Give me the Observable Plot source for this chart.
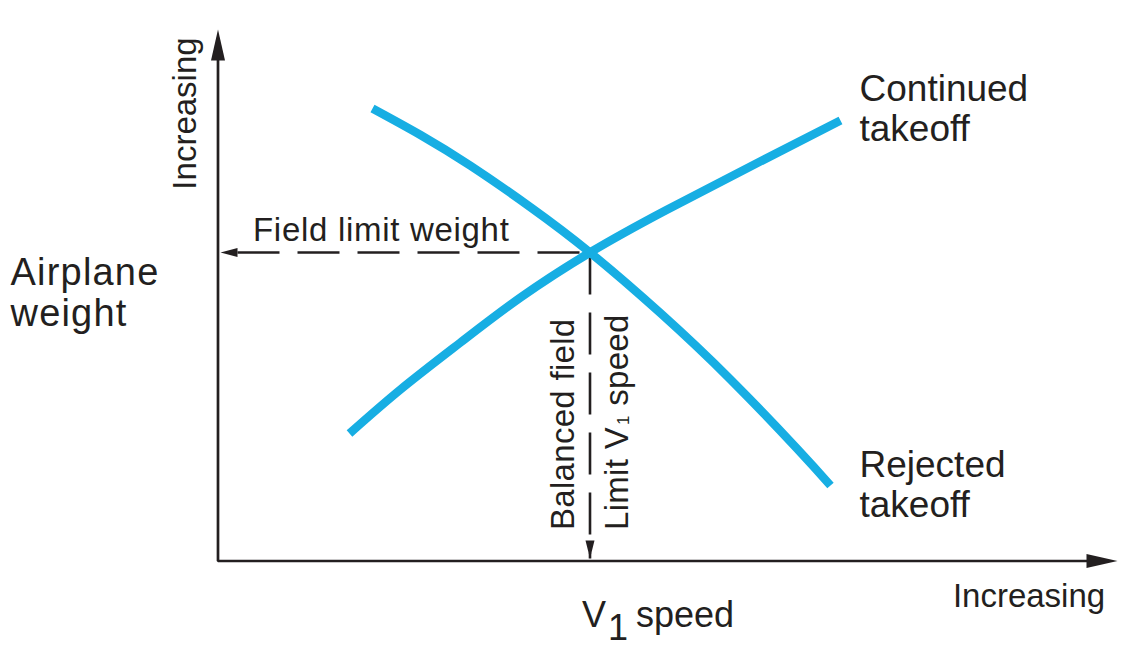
<!DOCTYPE html>
<html>
<head>
<meta charset="utf-8">
<script src="https://cdn.jsdelivr.net/npm/d3@7"></script>
<script src="https://cdn.jsdelivr.net/npm/@observablehq/plot@0.6"></script>
<style>
  html, body { margin: 0; padding: 0; background: #ffffff; }
  #chart svg { display: block; }
</style>
</head>
<body>
<div id="chart"></div>
<script>
// ---------- Data (speed / weight in arbitrary chart units, origin at the axes corner) ----------
const continuedSpeed  = [131.5, 182.5, 242.5, 302.5, 372, 447.5, 532.5, 622.5];
const continuedWeight = [127.5, 171.5, 218.5, 263.5, 308.5, 350.5, 394.5, 440.5];

const rejectedSpeed  = [154.5, 202.5, 252.5, 312.5, 372, 442.5, 512.5, 579.5, 612.5];
const rejectedWeight = [452.5, 426.0, 395.2, 353.8, 308.5, 247.8, 181.5, 111.9, 75.5];

const balancedV1 = 372;            // balanced field limit V1 speed
const fieldLimitWeight = 308.5;    // field limit weight
const speedAxisMax = 899.5;        // end of the speed axis (arrow tip)
const weightAxisMax = 531.5;       // end of the weight axis (arrow tip)
const leaderTipSpeed = 2.5;        // arrow tip of the field-limit-weight leader
const leaderTipWeight = 2.5;       // arrow tip of the V1 leader

// Text annotations
const curveLabels = ["Continued\ntakeoff", "Rejected\ntakeoff"];
const curveLabelSpeed = [641.5, 641.5];
const curveLabelWeight = [420.5, 44.5];

const axisTitleY = "Airplane\nweight";
const axisTitleYSpeed = -207.5, axisTitleYWeight = 235;
const axisTitleX = "V1 speed";
const axisTitleXSpeed = 364, axisTitleXWeight = -66;

const increasingLabel = "Increasing";
const incXSpeed = 811, incXWeight = -45.5;     // along x axis
const incYSpeed = -22, incYWeight = 447.5;     // along y axis

const fieldLabel = "Field limit weight";
const fieldLabelSpeed = 35, fieldLabelWeight = 319.8;

const verticalLabels = ["Balanced field", "Limit V1 speed"];
const verticalLabelSpeed = [355.8, 409.5];
const verticalLabelWeight = [31, 31];

// ---------- Build tables ----------
const continued = continuedSpeed.map((s, i) => ({speed: s, weight: continuedWeight[i]}));
const rejected = rejectedSpeed.map((s, i) => ({speed: s, weight: rejectedWeight[i]}));
const curveLabelData = curveLabels.map((t, i) => ({t, speed: curveLabelSpeed[i], weight: curveLabelWeight[i]}));
const verticalLabelData = verticalLabels.map((t, i) => ({t, speed: verticalLabelSpeed[i], weight: verticalLabelWeight[i]}));

// ---------- Styles ----------
const ink = "#231f20";
const blue = "#17aee3";

// arrowhead symbols (tip at origin)
function head(dir, len, hw) {
  return {
    draw(ctx) {
      const pts = {
        up:    [[0, 0], [-hw, len], [hw, len]],
        down:  [[0, 0], [-hw, -len], [hw, -len]],
        left:  [[0, 0], [len, -hw], [len, hw]],
        right: [[0, 0], [-len, -hw], [-len, hw]]
      }[dir];
      ctx.moveTo(pts[0][0], pts[0][1]);
      ctx.lineTo(pts[1][0], pts[1][1]);
      ctx.lineTo(pts[2][0], pts[2][1]);
      ctx.closePath();
    }
  };
}

const chart = Plot.plot({
  width: 1140,
  height: 656,
  marginTop: 0, marginRight: 0, marginBottom: 0, marginLeft: 0,
  style: {fontFamily: "'Liberation Sans', Arial, Helvetica, sans-serif", background: "#ffffff", color: ink},
  x: {axis: null, domain: [-217.5, 922.5]},
  y: {axis: null, domain: [-95.5, 560.5]},
  marks: [
    // axes
    Plot.line([{speed: 0, weight: weightAxisMax - 10}, {speed: 0, weight: 0}, {speed: speedAxisMax - 10, weight: 0}],
      {x: "speed", y: "weight", stroke: ink, strokeWidth: 2.7, strokeLinecap: "butt", strokeLinejoin: "miter"}),
    Plot.dot([{speed: 0, weight: weightAxisMax}], {x: "speed", y: "weight", symbol: head("up", 31, 7), fill: ink, stroke: "none"}),
    Plot.dot([{speed: speedAxisMax, weight: 0}], {x: "speed", y: "weight", symbol: head("right", 31, 7), fill: ink, stroke: "none"}),

    // dashed leaders
    Plot.line([{speed: leaderTipSpeed, weight: fieldLimitWeight}, {speed: balancedV1, weight: fieldLimitWeight}],
      {x: "speed", y: "weight", stroke: ink, strokeWidth: 2.6, strokeDasharray: "42,18", strokeDashoffset: 43, strokeLinecap: "butt"}),
    Plot.line([{speed: balancedV1, weight: fieldLimitWeight}, {speed: balancedV1, weight: leaderTipWeight}],
      {x: "speed", y: "weight", stroke: ink, strokeWidth: 2.6, strokeDasharray: "42,18", strokeLinecap: "butt"}),
    Plot.dot([{speed: leaderTipSpeed, weight: fieldLimitWeight}], {x: "speed", y: "weight", symbol: head("left", 17, 4.5), fill: ink, stroke: "none"}),
    Plot.dot([{speed: balancedV1, weight: leaderTipWeight}], {x: "speed", y: "weight", symbol: head("down", 18, 4.5), fill: ink, stroke: "none"}),

    // curves
    Plot.line(continued, {x: "speed", y: "weight", stroke: blue, strokeWidth: 8.5, curve: "natural", strokeLinecap: "butt"}),
    Plot.line(rejected, {x: "speed", y: "weight", stroke: blue, strokeWidth: 8.5, curve: "natural", strokeLinecap: "butt"}),

    // texts
    Plot.text(curveLabelData, {x: "speed", y: "weight", text: "t", textAnchor: "start", lineAnchor: "bottom", lineHeight: 1.08, fontSize: 37, fill: ink}),
    Plot.text([axisTitleY], {x: () => axisTitleYSpeed, y: () => axisTitleYWeight, text: d => d, textAnchor: "start", lineAnchor: "bottom", lineHeight: 1.07, fontSize: 38, fill: ink}),
    Plot.text([axisTitleX], {x: () => axisTitleXSpeed, y: () => axisTitleXWeight, text: d => d, textAnchor: "start", lineAnchor: "bottom", fontSize: 36, fill: ink}),
    Plot.text([increasingLabel], {x: () => incXSpeed, y: () => incXWeight, text: d => d, textAnchor: "middle", lineAnchor: "bottom", fontSize: 33, fill: ink}),
    Plot.text([increasingLabel], {x: () => incYSpeed, y: () => incYWeight, text: d => d, textAnchor: "middle", lineAnchor: "bottom", rotate: -90, fontSize: 33, fill: ink}),
    Plot.text([fieldLabel], {x: () => fieldLabelSpeed, y: () => fieldLabelWeight, text: d => d, textAnchor: "start", lineAnchor: "bottom", fontSize: 33, fill: ink}),
    Plot.text(verticalLabelData, {x: "speed", y: "weight", text: "t", textAnchor: "start", lineAnchor: "bottom", rotate: -90, fontSize: 33, fill: ink})
  ]
});

document.getElementById("chart").appendChild(chart);

// letter spacing tweaks and subscript "1" in V1
const spacing = {"Airplaneweight": "1.2px", "Field limit weight": "0.7px", "Balanced field": "0.3px", "Limit V1 speed": "0.3px"};
d3.select(chart).selectAll("text").each(function () {
  const el = d3.select(this);
  const t = this.textContent;
  if (spacing[t]) el.style("letter-spacing", spacing[t]);
  if (t === "V1 speed") {
    el.text("V");
    el.append("tspan").attr("dx", 2).attr("dy", 13).text("1");
    el.append("tspan").attr("dx", 8).attr("dy", -13).text("speed");
  } else if (t === "Limit V1 speed") {
    el.text("Limit V");
    el.append("tspan").attr("dx", 2).attr("dy", 1).attr("font-size", 17).text("1");
    el.append("tspan").attr("dy", -1).text(" speed");
  }
});
</script>
</body>
</html>
